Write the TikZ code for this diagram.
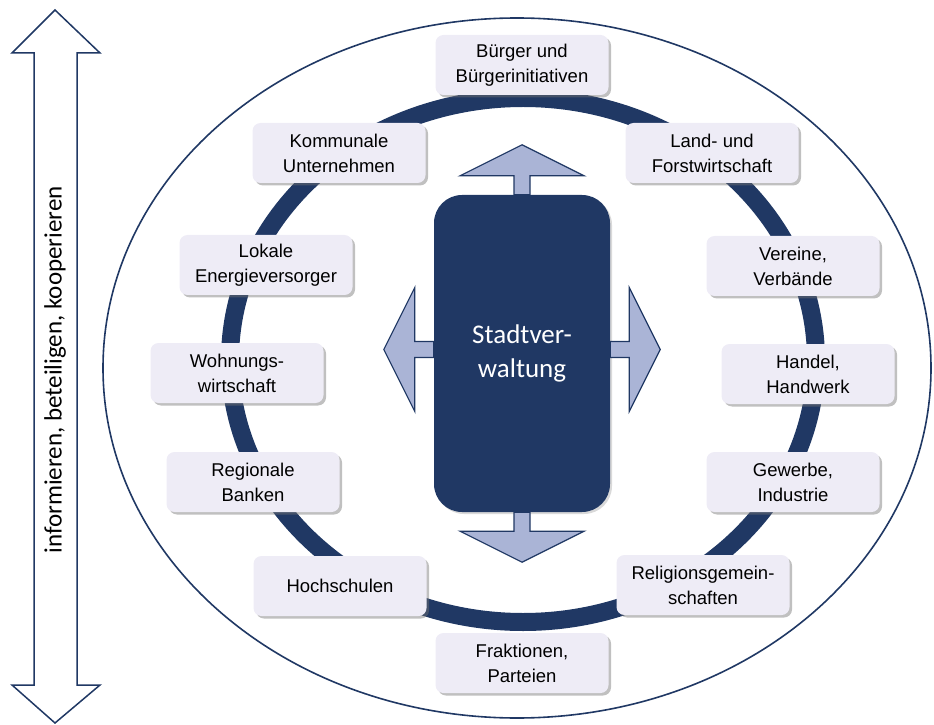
\documentclass[tikz,border=0pt]{standalone}
\usepackage{fontspec}
\setmainfont{Liberation Sans}
\newfontfamily\calibri{Carlito}
\usetikzlibrary{shadows, calc}
\definecolor{navy}{RGB}{32, 56, 100}
\definecolor{arrowfill}{RGB}{170, 180, 214}
\definecolor{boxfill}{RGB}{238, 236, 246}
\tikzset{
    akteur/.style={fill=boxfill, rounded corners=8pt, minimum width=173pt,
        minimum height=60pt, align=center, inner sep=2pt,
        font=\fontsize{18.5}{25}\selectfont,
        drop shadow={shadow xshift=2.5pt, shadow yshift=-2.5pt,
            fill=black!55, opacity=.45}},
    verwaltung/.style={fill=navy, rounded corners=28pt, minimum width=176pt,
        minimum height=317pt, align=center, text=white,
        font=\calibri\fontsize{27}{34}\selectfont,
        drop shadow={shadow xshift=2pt, shadow yshift=-2pt, opacity=.3}},
    blockarrow/.style={fill=arrowfill, draw=navy, line width=1.2pt,
        line join=miter},
    outarrow/.pic={
        \draw[blockarrow] (-8,0) -- (-8,19) -- (-62,19) -- (0,50) -- (62,19)
            -- (8,19) -- (8,0) -- cycle;
    },
}

\begin{document}
\begin{tikzpicture}[x=1pt, y=1pt]
    \useasboundingbox (0,0) rectangle (934,724);
    \coordinate (mitte) at (523,364);
    % informieren, beteiligen, kooperieren
    \coordinate (oben) at (55,714);
    \coordinate (unten) at (55,1);
    \draw[navy, line width=1.5pt, fill=white, line join=miter] (oben)
        -- ++(45,-43) -- ++(-23,0) -- (77,39) -- ++(23,0) -- (unten)
        -- ++(-43,38) -- ++(22,0) -- (34,671) -- ++(-22,0) -- cycle;
    \node[rotate=90, font=\calibri\fontsize{25}{30}\selectfont] (motto)
        at (55,354) {informieren, beteiligen, kooperieren};
    \draw[navy, line width=1.6pt] (517,356) ellipse [x radius=414,
        y radius=350];
    \draw[navy, line width=18pt] (mitte) ellipse [x radius=293,
        y radius=262];
    \foreach \n/\p/\t in {
        buerger/{522,659}/{Bürger und\\Bürgerinitiativen},
        land/{712,571}/{Land- und\\Forstwirtschaft},
        vereine/{793,458}/{Vereine,\\Verbände},
        handel/{808,350}/{Handel,\\Handwerk},
        gewerbe/{793,242}/{Gewerbe,\\Industrie},
        religion/{703,139}/{Religionsgemein-\\schaften},
        fraktion/{522,61}/{Fraktionen,\\Parteien},
        hochschule/{340,138}/{Hochschulen},
        banken/{253,242}/{Regionale\\Banken},
        wohnung/{237,351}/{Wohnungs-\\wirtschaft},
        energie/{266,459}/{Lokale\\Energieversorger},
        kommunal/{339,571}/{Kommunale\\Unternehmen}} {
        \node[akteur] (\n) at (\p) {\t};
    }
    \node[verwaltung] (verw) at (522,370.5) {Stadtver-\\waltung};
    \pic at (verw.north) {outarrow};
    \pic[rotate=180] at (verw.south) {outarrow};
    \pic[rotate=90] at ($(verw.west)+(0,4)$) {outarrow};
    \pic[rotate=-90] at ($(verw.east)+(0,4)$) {outarrow};
\end{tikzpicture}
\end{document}
